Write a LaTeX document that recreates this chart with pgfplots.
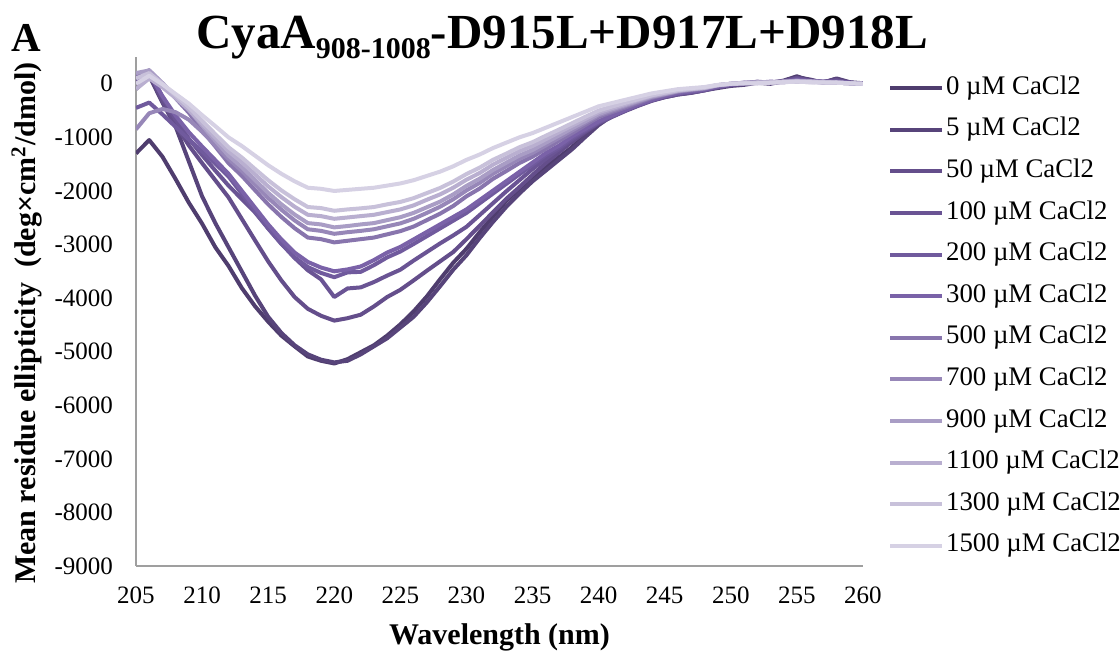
\documentclass[border=0pt]{standalone}
\usepackage{fontspec}
\setmainfont{Liberation Serif}
\usepackage{pgfplots}
\usepackage{pgfplotstable}
\pgfplotsset{compat=1.18}

\definecolor{c0}{HTML}{4F3D6E}
\definecolor{c5}{HTML}{57447A}
\definecolor{c50}{HTML}{644E8B}
\definecolor{c100}{HTML}{6A5494}
\definecolor{c200}{HTML}{705A9D}
\definecolor{c300}{HTML}{7A62A8}
\definecolor{c500}{HTML}{8875AD}
\definecolor{c700}{HTML}{9787B8}
\definecolor{c900}{HTML}{A99DC5}
\definecolor{c1100}{HTML}{B9AFD0}
\definecolor{c1300}{HTML}{C8C1DA}
\definecolor{c1500}{HTML}{D6D1E4}

% wavelength, then one column per CaCl2 concentration (0,5,50,100,200,300,500,700,900,1100,1300,1500 uM)
\pgfplotstableread{
x a b c d e f g h i j k m
205 -1300 -100 50 100 -450 0 150 -850 200 -100 100 0
206 -1050 150 200 250 -350 200 250 -550 250 100 200 150
207 -1360 -350 -320 -250 -570 -230 0 -470 15 -65 0 -10
208 -1780 -800 -770 -670 -805 -595 -270 -530 -235 -265 -215 -190
209 -2220 -1450 -1150 -1025 -1040 -905 -540 -670 -485 -485 -435 -370
210 -2610 -2100 -1480 -1330 -1260 -1170 -865 -895 -780 -745 -690 -585
211 -3050 -2600 -1800 -1620 -1490 -1425 -1170 -1150 -1060 -1005 -940 -790
212 -3400 -3050 -2120 -1900 -1730 -1680 -1480 -1400 -1340 -1260 -1185 -1000
213 -3810 -3500 -2520 -2150 -2050 -1995 -1715 -1625 -1555 -1460 -1375 -1160
214 -4150 -3950 -2920 -2400 -2375 -2310 -1985 -1875 -1795 -1690 -1590 -1340
215 -4440 -4350 -3315 -2700 -2700 -2625 -2250 -2130 -2035 -1915 -1800 -1520
216 -4700 -4650 -3670 -2980 -2990 -2905 -2485 -2350 -2250 -2115 -1990 -1680
217 -4900 -4880 -3980 -3250 -3240 -3150 -2695 -2550 -2440 -2295 -2155 -1820
218 -5090 -5050 -4200 -3480 -3420 -3325 -2870 -2715 -2600 -2445 -2300 -1940
219 -5170 -5150 -4330 -3650 -3530 -3430 -2900 -2745 -2625 -2470 -2320 -1960
220 -5220 -5200 -4420 -3980 -3610 -3500 -2960 -2800 -2680 -2520 -2370 -2000
221 -5140 -5170 -4375 -3820 -3520 -3465 -2930 -2770 -2655 -2495 -2345 -1980
222 -5010 -5050 -4310 -3800 -3510 -3410 -2900 -2745 -2625 -2470 -2325 -1960
223 -4880 -4900 -4155 -3700 -3385 -3290 -2870 -2715 -2600 -2445 -2300 -1940
224 -4700 -4750 -3980 -3580 -3240 -3150 -2810 -2660 -2545 -2395 -2250 -1900
225 -4490 -4550 -3845 -3470 -3130 -3045 -2750 -2605 -2490 -2345 -2205 -1860
226 -4250 -4350 -3670 -3300 -2990 -2905 -2665 -2520 -2410 -2270 -2135 -1800
227 -3970 -4080 -3490 -3140 -2845 -2765 -2545 -2410 -2305 -2165 -2040 -1720
228 -3650 -3780 -3315 -2980 -2700 -2625 -2425 -2295 -2200 -2065 -1945 -1640
229 -3340 -3470 -3140 -2830 -2555 -2485 -2280 -2155 -2065 -1940 -1825 -1540
230 -3080 -3200 -2900 -2670 -2410 -2345 -2100 -1990 -1905 -1790 -1685 -1420
231 -2770 -2880 -2650 -2450 -2230 -2170 -1955 -1850 -1770 -1665 -1565 -1320
232 -2480 -2580 -2400 -2230 -2050 -1995 -1775 -1680 -1610 -1510 -1420 -1200
233 -2190 -2300 -2150 -2010 -1870 -1820 -1630 -1540 -1475 -1385 -1305 -1100
234 -1960 -2050 -1930 -1800 -1690 -1645 -1480 -1400 -1340 -1260 -1185 -1000
235 -1750 -1820 -1700 -1590 -1510 -1470 -1360 -1290 -1235 -1160 -1090 -920
236 -1550 -1620 -1480 -1400 -1330 -1295 -1215 -1150 -1100 -1035 -970 -820
237 -1370 -1420 -1280 -1220 -1190 -1155 -1065 -1010 -965 -905 -855 -720
238 -1180 -1220 -1080 -1040 -1010 -980 -920 -870 -830 -780 -735 -620
239 -950 -990 -900 -880 -865 -840 -770 -730 -700 -655 -615 -520
240 -720 -770 -740 -730 -720 -700 -620 -590 -565 -530 -500 -420
241 -570 -600 -620 -610 -610 -595 -530 -505 -480 -455 -425 -360
242 -470 -490 -510 -500 -500 -490 -445 -420 -400 -380 -355 -300
243 -370 -400 -410 -400 -400 -385 -355 -335 -320 -300 -285 -240
244 -290 -310 -320 -310 -310 -300 -265 -250 -240 -225 -215 -180
245 -230 -250 -250 -240 -235 -230 -205 -195 -190 -175 -165 -140
246 -180 -200 -200 -190 -180 -175 -150 -140 -135 -125 -120 -100
247 -160 -170 -165 -160 -145 -140 -120 -110 -105 -100 -95 -80
248 -100 -120 -125 -120 -110 -105 -90 -85 -80 -75 -70 -60
249 -60 -80 -65 -60 -55 -50 -30 -30 -25 -25 -25 -20
250 -30 -40 -20 -20 -20 -15 0 0 0 0 0 0
251 0 -20 10 0 10 20 10 20 10 20 10 10
252 30 20 30 40 30 20 20 10 30 20 20 10
253 10 0 20 20 30 40 30 30 20 30 20 20
254 60 50 50 40 40 30 40 30 40 30 40 30
255 140 120 110 100 80 70 50 60 40 50 40 40
256 60 80 60 50 50 50 40 30 50 40 30 30
257 30 20 40 30 30 40 30 40 30 20 30 20
258 90 100 70 60 40 30 20 20 20 30 20 20
259 20 30 20 10 20 20 10 10 10 10 10 10
260 0 10 0 0 0 0 0 0 0 0 0 0
}\cddata

\begin{document}
\begin{tikzpicture}
\useasboundingbox (-68pt,-42.5pt) rectangle (492pt,283pt);
\begin{axis}[
    scale only axis,
    width=363.5pt, height=254.5pt,
    xmin=205, xmax=260, ymin=-9000, ymax=500,
    xtick={205,210,...,260},
    ytick={-9000,-8000,...,0},
    scaled y ticks=false,
    axis lines=left,
    axis line style={-, draw=gray!75, line width=0.8pt},
    major tick length=0pt,
    /pgf/number format/assume math mode=true,
    /pgf/number format/1000 sep={},
    tick label style={font=\fontsize{12.5}{14}\selectfont},
    xticklabel style={yshift=-7pt},
    yticklabel style={xshift=-8pt},
    xlabel={\textbf{Wavelength (nm)}},
    xlabel style={font=\fontsize{15}{18}\selectfont, at={(axis description cs:0.5,-0.14)}, anchor=center},
    ylabel={\textbf{Mean residue ellipticity\ \ (deg×cm\textsuperscript{2}/dmol)}},
    ylabel style={font=\fontsize{15}{18}\selectfont, at={(axis description cs:-0.15,0.477)}, anchor=center},
    legend style={at={(axis description cs:1.034,0.967)}, anchor=north west,
        draw=none, fill=none, inner sep=0pt, row sep=6.8pt, column sep=0pt,
        font=\fontsize{13.4}{15}\selectfont,
        nodes={text height=9pt, text depth=3pt, inner sep=1pt}},
    legend cell align=left,
    legend image code/.code={\draw[#1, line width=2pt] (0pt,0pt) -- (26pt,0pt);},
    every axis plot/.append style={line width=2pt, line join=round},
]
\addplot[c0] table[x=x,y=a]{\cddata};
\addlegendentry{0 µM CaCl2}
\addplot[c5] table[x=x,y=b]{\cddata};
\addlegendentry{5 µM CaCl2}
\addplot[c50] table[x=x,y=c]{\cddata};
\addlegendentry{50 µM CaCl2}
\addplot[c100] table[x=x,y=d]{\cddata};
\addlegendentry{100 µM CaCl2}
\addplot[c200] table[x=x,y=e]{\cddata};
\addlegendentry{200 µM CaCl2}
\addplot[c300] table[x=x,y=f]{\cddata};
\addlegendentry{300 µM CaCl2}
\addplot[c500] table[x=x,y=g]{\cddata};
\addlegendentry{500 µM CaCl2}
\addplot[c700] table[x=x,y=h]{\cddata};
\addlegendentry{700 µM CaCl2}
\addplot[c900] table[x=x,y=i]{\cddata};
\addlegendentry{900 µM CaCl2}
\addplot[c1100] table[x=x,y=j]{\cddata};
\addlegendentry{1100 µM CaCl2}
\addplot[c1300] table[x=x,y=k]{\cddata};
\addlegendentry{1300 µM CaCl2}
\addplot[c1500] table[x=x,y=m]{\cddata};
\addlegendentry{1500 µM CaCl2}
\end{axis}
\node[font=\bfseries\fontsize{20.5}{24}\selectfont] at (-55pt,264pt) {A};
\node[font=\bfseries\fontsize{24.5}{28}\selectfont] at (213pt,264pt)
    {CyaA\raisebox{-5pt}{\fontsize{15}{15}\selectfont 908-1008}-D915L+D917L+D918L};
\end{tikzpicture}
\end{document}
